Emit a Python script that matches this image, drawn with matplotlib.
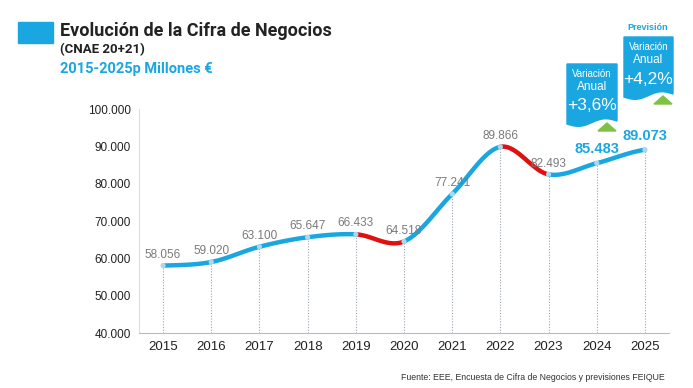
import numpy as np
import matplotlib.pyplot as plt
from matplotlib.patches import Polygon

plt.rcParams['font.family'] = ['Liberation Sans', 'DejaVu Sans']

years = [2015, 2016, 2017, 2018, 2019, 2020, 2021, 2022, 2023, 2024, 2025]
values = [58056, 59020, 63100, 65647, 66433, 64518, 77241, 89866, 82493, 85483, 89073]
labels = ["58.056", "59.020", "63.100", "65.647", "66.433", "64.518", "77.241",
          "89.866", "82.493", "85.483", "89.073"]
falls = [2019, 2022]  # segments starting at these years are drawn red
y_ticks = [40000, 50000, 60000, 70000, 80000, 90000, 100000]
y_tick_labels = ["40.000", "50.000", "60.000", "70.000", "80.000", "90.000", "100.000"]
callouts = [("+3,6%", 567, 64, 617, 124), ("+4,2%", 624, 37, 673, 97)]

BLUE = "#1aa7e1"
RED = "#e01010"
W, H = 693, 388

fig = plt.figure(figsize=(W / 100, H / 100), dpi=100)
ax = fig.add_axes([139 / W, 55 / H, 530 / W, 224 / H])

x = np.array(years, dtype=float)
y = np.array(values, dtype=float)


# Catmull-Rom smoothing between consecutive points (like Excel smoothed lines)
def segment(i, n=40):
    p0 = y[max(i - 1, 0)]
    p1, p2 = y[i], y[i + 1]
    p3 = y[min(i + 2, len(y) - 1)]
    t = np.linspace(0, 1, n)
    yy = 0.5 * ((2 * p1) + (-p0 + p2) * t + (2 * p0 - 5 * p1 + 4 * p2 - p3) * t ** 2
                + (-p0 + 3 * p1 - 3 * p2 + p3) * t ** 3)
    return x[i] + t * (x[i + 1] - x[i]), yy


for i in range(len(x) - 1):
    sx, sy = segment(i)
    c = RED if years[i] in falls else BLUE
    ax.plot(sx, sy, color=c, lw=3.2, solid_capstyle="round", zorder=3)

ax.vlines(x, 40000, y, colors="#9aa6b2", linestyles=(0, (1, 1.5)), lw=0.8, zorder=1)
ax.scatter(x, y, s=14, color="#a9d9ec", zorder=4, edgecolors="none")

for i, (xi, yi) in enumerate(zip(x, y)):
    if years[i] >= 2024:
        ax.text(xi, yi + 1800, labels[i], ha="center", va="bottom", color=BLUE,
                fontsize=10.5, fontweight="bold", zorder=5)
    else:
        ax.text(xi, yi + 1300, labels[i], ha="center", va="bottom", color="#7a7a7a",
                fontsize=8.5, zorder=5)

ax.set_xlim(2014.5, 2025.5)
ax.set_ylim(40000, 100000)
ax.set_xticks(years)
ax.set_xticklabels([str(v) for v in years], fontsize=9.5, color="#222222")
ax.set_yticks(y_ticks)
ax.set_yticklabels(y_tick_labels, fontsize=8.5, color="#222222")
ax.tick_params(length=0, pad=6)
for s in ["top", "right"]:
    ax.spines[s].set_visible(False)
ax.spines["left"].set_color("#dddddd")
ax.spines["bottom"].set_color("#bbbbbb")


def fx(px):
    return px / W


def fy(py):
    return 1 - py / H


# title block
fig.patches.append(plt.Rectangle((fx(18), fy(43)), 35 / W, 21 / H, transform=fig.transFigure,
                                 color=BLUE, zorder=1))
fig.text(fx(60), fy(31), "Evolución de la Cifra de Negocios", fontsize=13, fontweight="bold",
         color="#222222", va="center", family="Roboto")
fig.text(fx(60), fy(50), "(CNAE 20+21)", fontsize=9.5, fontweight="bold", color="#222222",
         va="center", family="Roboto")
fig.text(fx(60), fy(69), "2015-2025p Millones €", fontsize=10.5, fontweight="bold", color=BLUE,
         va="center", family="Roboto")

# callout banners
for txt, x0, y0, x1, y1 in callouts:
    bx = np.linspace(x1, x0, 40)
    t = (bx - x0) / (x1 - x0)
    by = y1 + 3 * np.sin(t * 2 * np.pi) - 3 * t
    pts = [(fx(x0), fy(y0)), (fx(x1), fy(y0))] + [(fx(a), fy(b)) for a, b in zip(bx, by)]
    fig.patches.append(Polygon(pts, closed=True, transform=fig.transFigure, color=BLUE, zorder=2))
    cx = (x0 + x1) / 2
    fig.text(fx(cx), fy(y0 + 10), "Variación", fontsize=7, color="white", ha="center",
             va="center")
    fig.text(fx(cx), fy(y0 + 23), "Anual", fontsize=8.5, color="white", ha="center",
             va="center")
    fig.text(fx(cx), fy(y0 + 42), txt, fontsize=12.5, color="white", ha="center", va="center")
    tx = x1 - 10
    tri = [(fx(tx - 9), fy(y1 + 7)), (fx(tx + 9), fy(y1 + 7)), (fx(tx), fy(y1 - 1))]
    fig.patches.append(Polygon(tri, closed=True, transform=fig.transFigure, color="#7dc242",
                               zorder=3))

fig.text(fx(648), fy(28), "Previsión", fontsize=6.5, fontweight="bold", color=BLUE, ha="center",
         va="center")
fig.text(fx(665), fy(377), "Fuente: EEE, Encuesta de Cifra de Negocios y previsiones FEIQUE",
         fontsize=6.3, color="#333333", ha="right", va="center")

fig.savefig("out.png", dpi=100)
